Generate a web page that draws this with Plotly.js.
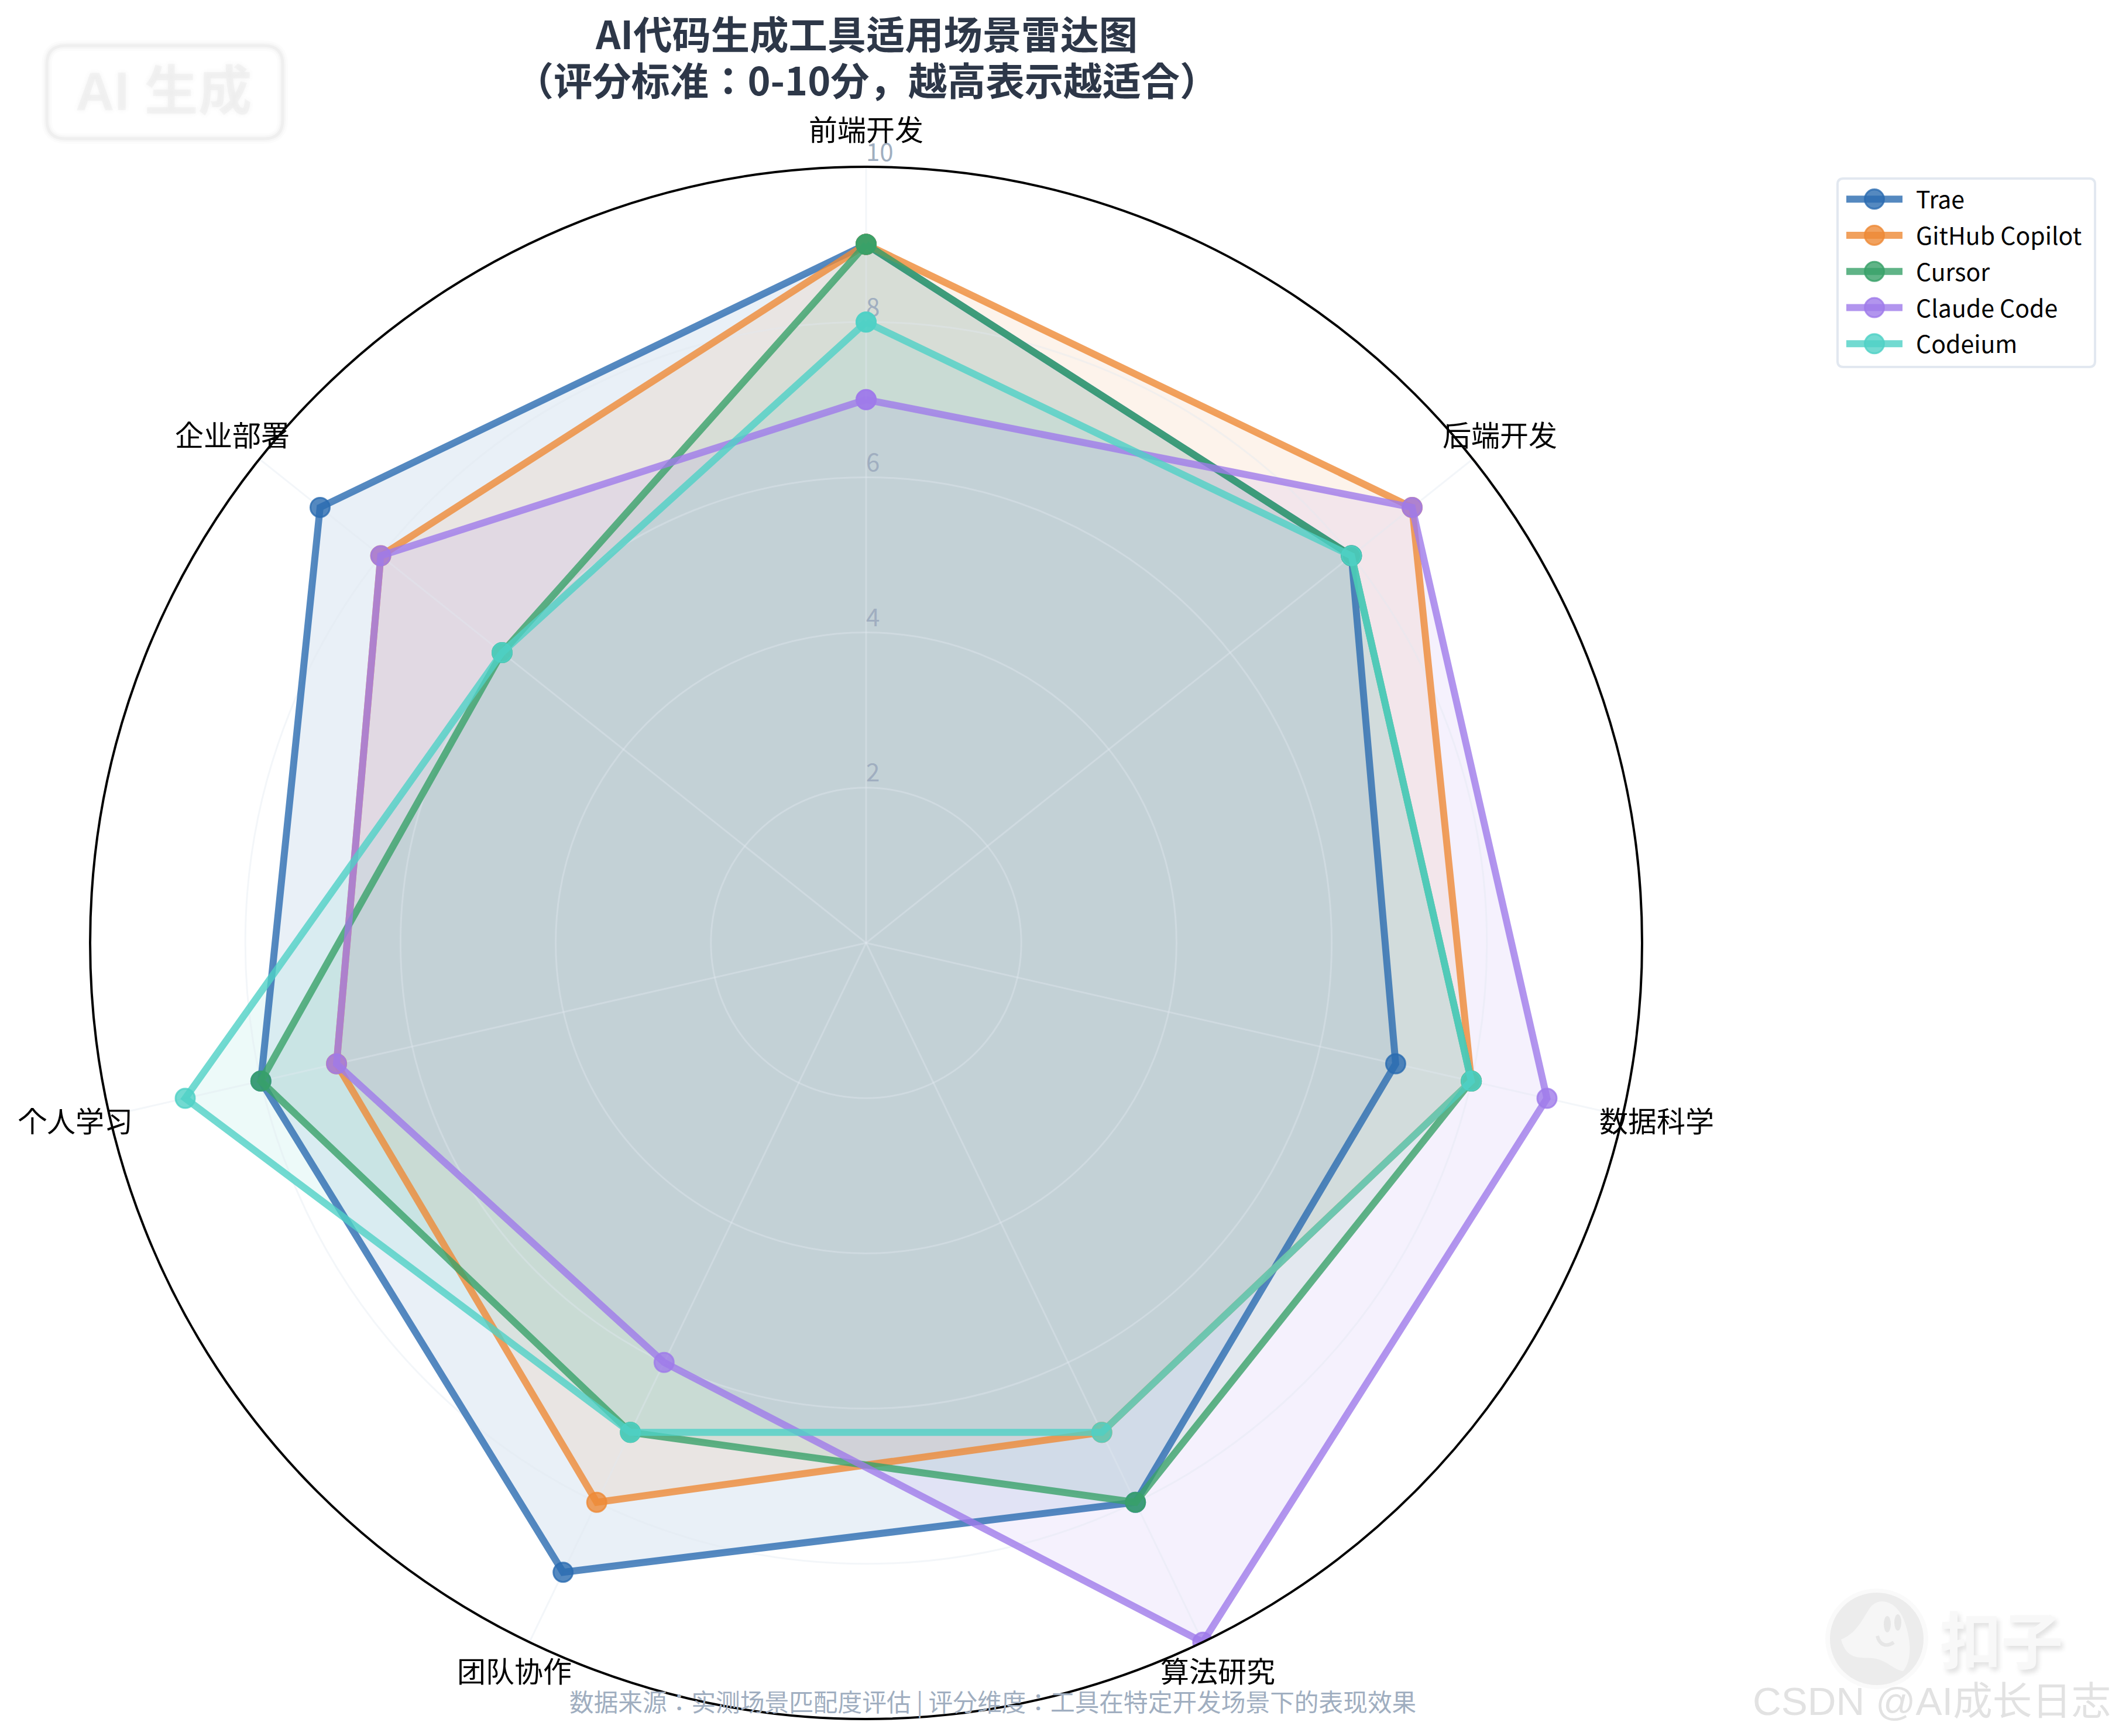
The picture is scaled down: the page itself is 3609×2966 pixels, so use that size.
<!DOCTYPE html>
<html>
<head>
<meta charset="utf-8">
<script src="https://cdn.plot.ly/plotly-3.0.1.min.js"></script>
<style>html,body{margin:0;padding:0;background:#fff}</style>
</head>
<body>
<div id="myDiv" style="width:3609px;height:2966px"></div>
<script>
var categories = ['前端开发', '后端开发', '数据科学', '算法研究', '团队协作', '个人学习', '企业部署'];
var trae = [9, 8, 7, 8, 9, 8, 9];
var copilot = [9, 9, 8, 7, 8, 7, 8];
var cursor = [9, 8, 8, 8, 7, 8, 6];
var claude = [7, 9, 9, 10, 6, 7, 8];
var codeium = [8, 8, 8, 7, 7, 9, 6];
var radialTicks = [2, 4, 6, 8, 10];

var names = ['Trae', 'GitHub Copilot', 'Cursor', 'Claude Code', 'Codeium'];
var values = [trae, copilot, cursor, claude, codeium];
var rgb = ['43,108,176', '237,137,54', '56,161,105', '159,122,234', '79,209,197'];

var W = 3609, H = 2966;
var FONT = '"Noto Sans CJK JP", "Noto Sans", sans-serif';
var MARK = '"Liberation Sans", "Noto Sans CJK JP", sans-serif';
var CX = 1480, CY = 1611, RIM = 1326;   // plot centre and radius in pixels
var LABEL_R = 1.045;                    // category labels, as a share of the radius

function fx(x) { return x / W; }
function fy(y) { return 1 - y / H; }

// rounded box path, pixel corners to paper coordinates
function roundBox(x0, y0, x1, y1, r) {
    return 'M' + fx(x0 + r) + ',' + fy(y0) +
        ' L' + fx(x1 - r) + ',' + fy(y0) + ' Q' + fx(x1) + ',' + fy(y0) + ' ' + fx(x1) + ',' + fy(y0 + r) +
        ' L' + fx(x1) + ',' + fy(y1 - r) + ' Q' + fx(x1) + ',' + fy(y1) + ' ' + fx(x1 - r) + ',' + fy(y1) +
        ' L' + fx(x0 + r) + ',' + fy(y1) + ' Q' + fx(x0) + ',' + fy(y1) + ' ' + fx(x0) + ',' + fy(y1 - r) +
        ' L' + fx(x0) + ',' + fy(y0 + r) + ' Q' + fx(x0) + ',' + fy(y0) + ' ' + fx(x0 + r) + ',' + fy(y0) + ' Z';
}

function curve(points) {
    return points.map(function (p) {
        return p[0] + fx(p[1]) + ',' + fy(p[2]) + (p.length > 3 ? ' ' + fx(p[3]) + ',' + fy(p[4]) + ' ' + fx(p[5]) + ',' + fy(p[6]) : '');
    }).join(' ') + ' Z';
}

function oval(cx, cy, rx, ry, fill) {
    return {type: 'circle', xref: 'paper', yref: 'paper', x0: fx(cx - rx), x1: fx(cx + rx), y0: fy(cy + ry), y1: fy(cy - ry),
        fillcolor: fill, line: {width: 0}, layer: 'below'};
}

function boxShape(path, color, width, fill) {
    return {type: 'path', xref: 'paper', yref: 'paper', path: path, fillcolor: fill || 'rgba(0,0,0,0)',
        line: {color: color, width: width}, layer: 'below'};
}

var closedTheta = categories.concat(categories[0]);
var data = [];

// fills sit in the lower subplot so the grid of the upper one lands on top of them
values.forEach(function (v, i) {
    data.push({
        type: 'scatterpolar', subplot: 'polar', mode: 'none', showlegend: false, hoverinfo: 'skip',
        r: v.concat(v[0]), theta: closedTheta, fill: 'toself', fillcolor: 'rgba(' + rgb[i] + ',0.1)'
    });
});

data.push({
    type: 'scatterpolar', subplot: 'polar2', mode: 'text', showlegend: false, hoverinfo: 'skip',
    r: radialTicks, theta: radialTicks.map(function () { return categories[0]; }),
    text: radialTicks.map(String), textposition: 'top right', cliponaxis: false,
    textfont: {family: FONT, size: 42, color: '#a0aec0'}
});

values.forEach(function (v, i) {
    var c = 'rgba(' + rgb[i] + ',0.8)';
    data.push({
        type: 'scatterpolar', subplot: 'polar2', mode: 'lines+markers', name: names[i], legendgroup: names[i],
        r: v.concat(v[0]), theta: closedTheta, cliponaxis: true,
        line: {color: c, width: 12},
        marker: {color: c, size: 33, line: {color: c, width: 3}}
    });
});

var domain = {x: [fx(CX - RIM), fx(CX + RIM)], y: [fy(CY + RIM), fy(CY - RIM)]};
var hiddenAngular = {
    type: 'category', categoryorder: 'array', categoryarray: categories, rotation: 90, direction: 'clockwise',
    showgrid: false, showline: false, showticklabels: false, ticks: ''
};
var hiddenRadial = {range: [0, 10], showgrid: false, showline: false, showticklabels: false, ticks: ''};

// plotly anchors angular tick labels by side, the reference centres them, so they are annotations
var categoryLabels = categories.map(function (name, i) {
    var a = i * 2 * Math.PI / categories.length;
    return {
        xref: 'paper', yref: 'paper', showarrow: false, xanchor: 'center', yanchor: 'middle',
        x: fx(CX + RIM * LABEL_R * Math.sin(a)), y: fy(CY - RIM * LABEL_R * Math.cos(a) - 7),
        text: name, font: {family: FONT, size: 49, color: '#000'}
    };
});

var layout = {
    width: W, height: H,
    paper_bgcolor: '#fff',
    margin: {l: 0, r: 0, t: 0, b: 0},
    font: {family: FONT, color: '#000'},
    showlegend: true,
    title: {
        // the outer size sets the line pitch, the span the glyph size
        text: '<span style="font-size:66.3px"><b>AI代码生成工具适用场景雷达图<br>（评分标准：0-10分，越高表示越适合）</b></span>',
        font: {family: FONT, size: 60.8, color: '#2d3748'},
        x: fx(1481), xanchor: 'center', y: fy(84), yanchor: 'top'
    },
    polar: {domain: domain, bgcolor: '#fff', angularaxis: hiddenAngular, radialaxis: hiddenRadial},
    polar2: {
        domain: domain, bgcolor: 'rgba(0,0,0,0)',
        angularaxis: {
            type: 'category', categoryorder: 'array', categoryarray: categories, rotation: 90, direction: 'clockwise',
            showline: true, linecolor: '#000', linewidth: 4, ticks: '', showticklabels: false,
            gridcolor: 'rgba(226,232,240,0.4)', gridwidth: 3
        },
        radialaxis: {
            range: [0, 10], tickvals: radialTicks, showticklabels: false, ticks: '', showline: false,
            gridcolor: 'rgba(226,232,240,0.4)', gridwidth: 3
        }
    },
    legend: {
        x: fx(3150), xanchor: 'left', y: fy(307), yanchor: 'top',
        bgcolor: 'rgba(0,0,0,0)', borderwidth: 0, itemwidth: 96, tracegroupgap: 5.5,
        font: {family: FONT, size: 41, color: '#000'}
    },
    annotations: categoryLabels.concat([
        {xref: 'paper', yref: 'paper', x: fx(1696), y: fy(2906), showarrow: false, xanchor: 'center', yanchor: 'middle',
            text: '数据来源：实测场景匹配度评估 | 评分维度：工具在特定开发场景下的表现效果',
            font: {family: FONT, size: 41.7, color: '#a0aec0'}},
        {xref: 'paper', yref: 'paper', x: fx(280), y: fy(156), showarrow: false, xanchor: 'center', yanchor: 'middle',
            text: '<b>AI 生成</b>',
            font: {family: MARK, size: 92, color: 'rgba(200,200,200,0.12)', shadow: '0 0 9px rgba(90,90,90,0.55)'}},
        {xref: 'paper', yref: 'paper', x: fx(3420), y: fy(2796), showarrow: false, xanchor: 'center', yanchor: 'middle',
            text: '<b>扣子</b>',
            font: {family: FONT, size: 105, color: '#f8f8f8', shadow: '4px 6px 8px rgba(0,0,0,0.12)'}},
        {xref: 'paper', yref: 'paper', x: 1, y: fy(2906), showarrow: false, xanchor: 'right', yanchor: 'middle',
            text: 'CSDN @AI成长日志',
            font: {family: MARK, size: 67.5, color: '#e2e2e2'}}
    ]),
    shapes: [
        // legend frame
        boxShape(roundBox(3140, 305, 3580, 627, 10), '#e2e8f0', 4, '#fff'),
        // blurred tag, top left
        boxShape(roundBox(80, 78, 483, 237, 32), 'rgba(0,0,0,0.012)', 18),
        boxShape(roundBox(80, 78, 483, 237, 32), 'rgba(0,0,0,0.018)', 11),
        boxShape(roundBox(80, 78, 483, 237, 32), 'rgba(0,0,0,0.03)', 5),
        // ghost logo, bottom right
        oval(3207, 2800, 88, 86, 'rgba(0,0,0,0.02)'),
        oval(3207, 2800, 80, 79, '#ececec'),
        {type: 'path', xref: 'paper', yref: 'paper', layer: 'below', fillcolor: '#f6f6f6', line: {width: 0},
            path: curve([
                ['M', 3146, 2801],
                ['C', 3175, 2790, 3185, 2760, 3197, 2745],
                ['C', 3215, 2725, 3245, 2740, 3255, 2772],
                ['C', 3268, 2810, 3265, 2840, 3252, 2855],
                ['C', 3235, 2853, 3225, 2836, 3200, 2833],
                ['C', 3175, 2832, 3155, 2835, 3146, 2801]
            ])},
        oval(3225, 2775, 6, 14, '#e6e6e6'),
        oval(3243, 2772, 6, 14, '#e6e6e6'),
        {type: 'path', xref: 'paper', yref: 'paper', layer: 'below', line: {color: '#e6e6e6', width: 6},
            path: curve([['M', 3208, 2795], ['C', 3212, 2812, 3225, 2814, 3236, 2806], ['C', 3225, 2814, 3212, 2812, 3208, 2795]])}
    ]
};

Plotly.newPlot('myDiv', data, layout, {staticPlot: true}).then(function () {
    // plotly caps legend line and marker size, so enlarge the samples afterwards
    document.querySelectorAll('.legend .legendlines path').forEach(function (p) {
        p.style.strokeWidth = '12px';
    });
    document.querySelectorAll('.legend .legendpoints path').forEach(function (p) {
        var t = p.getAttribute('transform') || '';
        p.setAttribute('transform', t + ' scale(2.06)');
        p.style.strokeWidth = '1.5px';
    });
    document.querySelectorAll('.legend .legendtext').forEach(function (t) {
        t.setAttribute('x', parseFloat(t.getAttribute('x')) + 18);
    });
    // the moved text runs past the legend's own clip box
    document.querySelectorAll('.legend .scrollbox, .legend').forEach(function (g) {
        g.removeAttribute('clip-path');
        g.style.clipPath = 'none';
    });
});
</script>
</body>
</html>
